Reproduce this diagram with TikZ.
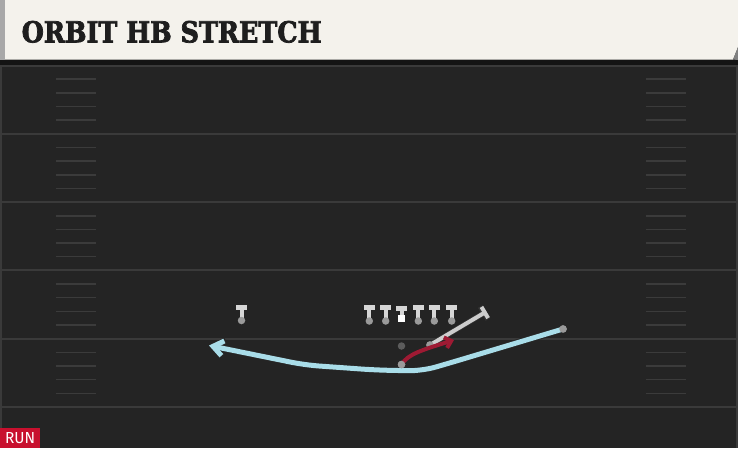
\documentclass[tikz,border=0pt]{standalone}
\usepackage{fontspec}
\usetikzlibrary{arrows.meta}
\newfontfamily\titlefont[FakeBold=2.5]{DejaVu Serif Condensed}
\newfontfamily\runfont{Fira Sans}
\definecolor{fieldc}{HTML}{242424}
\definecolor{linec}{HTML}{3A3A3A}
\definecolor{hashc}{HTML}{3B3B3B}
\definecolor{headc}{HTML}{F4F2EC}
\definecolor{stripc}{HTML}{A8A8A8}
\definecolor{teec}{HTML}{D6D6D6}
\definecolor{dotc}{HTML}{9A9A9A}
\definecolor{qbc}{HTML}{5C5C5C}
\definecolor{routec}{HTML}{A9DDE9}
\definecolor{redr}{HTML}{9E1A33}
\definecolor{blockc}{HTML}{CDCDCD}
\definecolor{runc}{HTML}{C8102E}
\definecolor{titlec}{HTML}{1E1E1E}
\begin{document}
\begin{tikzpicture}[x=1pt,y=-1pt,
  dotn/.style={circle,fill=dotc,minimum size=7.5pt,inner sep=0pt},
  qbn/.style={circle,fill=qbc,minimum size=7.5pt,inner sep=0pt},
  ctrn/.style={rectangle,fill=white,minimum size=7pt,inner sep=0pt},
  tee/.pic={\fill[teec] (-5.7,-16) rectangle (5.7,-11); \fill[teec] (-2,-11.5) rectangle (2,-2);},
  ctee/.pic={\fill[teec] (-5.7,-13) rectangle (5.7,-8); \fill[teec] (-2,-8.5) rectangle (2,-3);},
  yardline/.style={linec,line width=2pt},
  hashline/.style={hashc,line width=1.5pt},
  routeout/.style={black!85,line width=7pt,line join=round,rounded corners=14pt},
  routein/.style={routec,line width=5pt,line join=round,rounded corners=14pt}
]
\useasboundingbox (0,0) rectangle (738,448);
\fill[fieldc] (0,0) rectangle (738,448);
% header
\fill[headc] (5,0) -- (738,0) -- (738,47) -- (733,59.5) -- (5,59.5) -- cycle;
\fill[stripc] (0,0) rectangle (5,59.5);
\fill[black!92] (0,59.5) rectangle (738,64.5);
\fill[gray] (738,47) -- (738,60) -- (733,59.5) -- cycle;
\node[anchor=south west,inner sep=0pt,text=titlec] (title) at (21.5,43)
  {\resizebox{300pt}{21.5pt}{\titlefont\bfseries ORBIT HB STRETCH}};
% field edges and lines
\fill[linec] (0,64.5) rectangle (2,428);
\fill[linec] (736,64.5) rectangle (738,448);
\foreach \yy in {65.5,133.8,202.1,270.4,338.7,407}
  \draw[yardline] (0,\yy) -- (738,\yy);
\foreach \i in {0,...,4}
  \foreach \k in {1,...,4}{
    \pgfmathsetmacro{\hy}{65.5+68.3*\i+13.66*\k}
    \draw[hashline] (56,\hy) -- (96,\hy);
    \draw[hashline] (646,\hy) -- (686,\hy);
  }
% players (positions)
\coordinate (wrp) at (241.5,320.5);
\foreach \nm/\xx in {lt/369.3,lg/385.7,rg/418.3,rt/434.3,te2/451.7}
  \coordinate (\nm p) at (\xx,321);
\coordinate (cp) at (401.5,318.5);
\coordinate (blkend) at (486.5,311.5);
\coordinate (redend) at (454,340);
\coordinate (blueend) at (209,345.5);
% route (blue)
\node[dotn] (motion) at (563,329) {};
\draw[routeout,-{Straight Barb[length=10pt,width=16pt]}] (motion.center) -- (453,362) -- (422,371) -- (375,370) -- (305,365) -- (blueend);
\draw[routein,-{Straight Barb[length=10pt,width=15pt]}] (motion.center) -- (453,362) -- (422,371) -- (375,370) -- (305,365) -- (blueend);
\node[dotn] (motion2) at (563,329) {};
% block (grey)
\node[dotn] (blocker) at (430,345) {};
\draw[black!80,line width=5.5pt,-{Bar[width=15pt]}] (blocker.center) -- (blkend);
\draw[blockc,line width=4pt,-{Bar[width=13pt]}] (blocker.center) -- (blkend);
\node[dotn] (blocker2) at (430,345) {};
% HB run (red)
\node[dotn] (hb) at (401.5,364.5) {};
\draw[redr,line width=4pt,-{Straight Barb[length=6pt,width=11pt]}] (hb.center) .. controls (408,354) and (422,350) .. (redend);
\node[dotn] (hb2) at (401.5,364.5) {};
% QB
\node[qbn] (qb) at (401.5,346) {};
% line and receiver
\pic at (wrp) {tee};
\node[dotn] (wr) at (wrp) {};
\foreach \nm in {lt,lg,rg,rt,te2}{
  \pic at (\nm p) {tee};
  \node[dotn] (\nm) at (\nm p) {};
}
\pic at (cp) {ctee};
\node[ctrn] (ctr) at (cp) {};
% RUN label
\node[fill=runc,text=white,anchor=north west,minimum width=40pt,minimum height=20pt,inner sep=0pt] (run) at (0,428)
  {\resizebox{30pt}{11pt}{\runfont RUN}};
\end{tikzpicture}
\end{document}
